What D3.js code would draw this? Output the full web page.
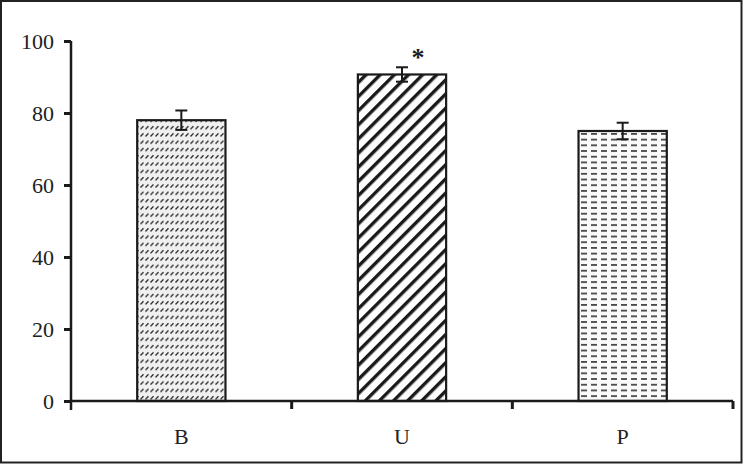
<!DOCTYPE html>
<html><head><meta charset="utf-8">
<script src="https://d3js.org/d3.v7.min.js"></script>
<style>body{margin:0;background:#fff}svg{display:block}</style>
</head><body>
<script>
const categories = ["B", "U", "P"];
const means = [78.0, 90.7, 75.0];
const errors = [2.7, 2.0, 2.3];
const yTicks = [0, 20, 40, 60, 80, 100];
const significance = ["", "*", ""];

const W = 743, H = 464;
const m = {left: 71, right: 10, top: 41, bottom: 63};
const svg = d3.select("body").append("svg").attr("width", W).attr("height", H);

const defs = svg.append("defs");
const pB = defs.append("pattern").attr("id", "pB").attr("patternUnits", "userSpaceOnUse")
  .attr("width", 5).attr("height", 7.3);
pB.append("rect").attr("width", 5).attr("height", 7.3).attr("fill", "#f0f0f0");
pB.append("line").attr("x1", 0.5).attr("y1", 5).attr("x2", 3.5).attr("y2", 2)
  .attr("stroke", "#2a2a2a").attr("stroke-width", 1.4);
const pU = defs.append("pattern").attr("id", "pU").attr("patternUnits", "userSpaceOnUse")
  .attr("width", 10).attr("height", 10).attr("patternTransform", "rotate(45)");
pU.append("rect").attr("width", 10).attr("height", 10).attr("fill", "#fff");
pU.append("rect").attr("x", 0).attr("width", 3.4).attr("height", 10).attr("fill", "#1a1a1a");
const pP = defs.append("pattern").attr("id", "pP").attr("patternUnits", "userSpaceOnUse")
  .attr("width", 10).attr("height", 5.7);
pP.append("rect").attr("width", 10).attr("height", 5.7).attr("fill", "#fafafa");
pP.append("rect").attr("x", 1).attr("y", 2).attr("width", 6).attr("height", 1.6).attr("fill", "#333");
const fills = ["url(#pB)", "url(#pU)", "url(#pP)"];

svg.append("rect").attr("x", 1).attr("y", 1).attr("width", W - 2.5).attr("height", H - 2.5)
  .attr("fill", "none").attr("stroke", "#222").attr("stroke-width", 2);

const x = d3.scaleBand().domain(categories).range([m.left, W - m.right]).paddingInner(0).paddingOuter(0);
const y = d3.scaleLinear().domain([0, 100]).range([H - m.bottom, m.top]);
const bw = x.bandwidth() * 0.4;

const font = "'Liberation Serif','Times New Roman',serif";

svg.selectAll("rect.bar").data(categories).enter().append("rect").attr("class", "bar")
  .attr("x", d => x(d) + x.bandwidth() / 2 - bw / 2)
  .attr("y", (d, i) => y(means[i]))
  .attr("width", bw)
  .attr("height", (d, i) => y(0) - y(means[i]))
  .attr("fill", (d, i) => fills[i])
  .attr("stroke", "#1a1a1a").attr("stroke-width", 2.2);

categories.forEach((c, i) => {
  const cx = x(c) + x.bandwidth() / 2;
  const g = svg.append("g").attr("stroke", "#1a1a1a").attr("stroke-width", 2);
  g.append("line").attr("x1", cx).attr("x2", cx).attr("y1", y(means[i] + errors[i])).attr("y2", y(means[i] - errors[i]));
  g.append("line").attr("x1", cx - 6).attr("x2", cx + 6).attr("y1", y(means[i] + errors[i])).attr("y2", y(means[i] + errors[i]));
  g.append("line").attr("x1", cx - 6).attr("x2", cx + 6).attr("y1", y(means[i] - errors[i])).attr("y2", y(means[i] - errors[i]));
  if (significance[i]) {
    svg.append("text").attr("x", cx + 16).attr("y", y(means[i] + errors[i]) - 1)
      .attr("text-anchor", "middle").attr("font-family", font).attr("font-weight", "bold")
      .attr("font-size", 26).attr("fill", "#1a1a1a").text(significance[i]);
  }
});

const yAxis = svg.append("g").attr("transform", `translate(${m.left},0)`)
  .call(d3.axisLeft(y).tickValues(yTicks).tickSize(7).tickPadding(10));
yAxis.select(".domain").attr("stroke", "#1a1a1a").attr("stroke-width", 2.5)
  .attr("d", `M0,${y(100)}V${y(0) + 9}`);
yAxis.selectAll(".tick line").attr("stroke", "#1a1a1a").attr("stroke-width", 3);
yAxis.selectAll("text").attr("font-family", font).attr("font-size", 22).attr("fill", "#222");

const xAxisG = svg.append("g").attr("transform", `translate(0,${y(0)})`);
xAxisG.append("line").attr("x1", m.left).attr("x2", W - m.right).attr("y1", 0).attr("y2", 0)
  .attr("stroke", "#1a1a1a").attr("stroke-width", 2.5);
const bounds = categories.map(c => x(c)).concat([x(categories[categories.length - 1]) + x.bandwidth()]).slice(1);
xAxisG.selectAll("line.tk").data(bounds).enter().append("line").attr("class", "tk")
  .attr("x1", d => d).attr("x2", d => d).attr("y1", 0).attr("y2", 8)
  .attr("stroke", "#1a1a1a").attr("stroke-width", 3);
xAxisG.selectAll("text").data(categories).enter().append("text")
  .attr("x", d => x(d) + x.bandwidth() / 2).attr("y", 43)
  .attr("text-anchor", "middle").attr("font-family", font).attr("font-size", 22).attr("fill", "#222")
  .text(d => d);
</script>
</body></html>
